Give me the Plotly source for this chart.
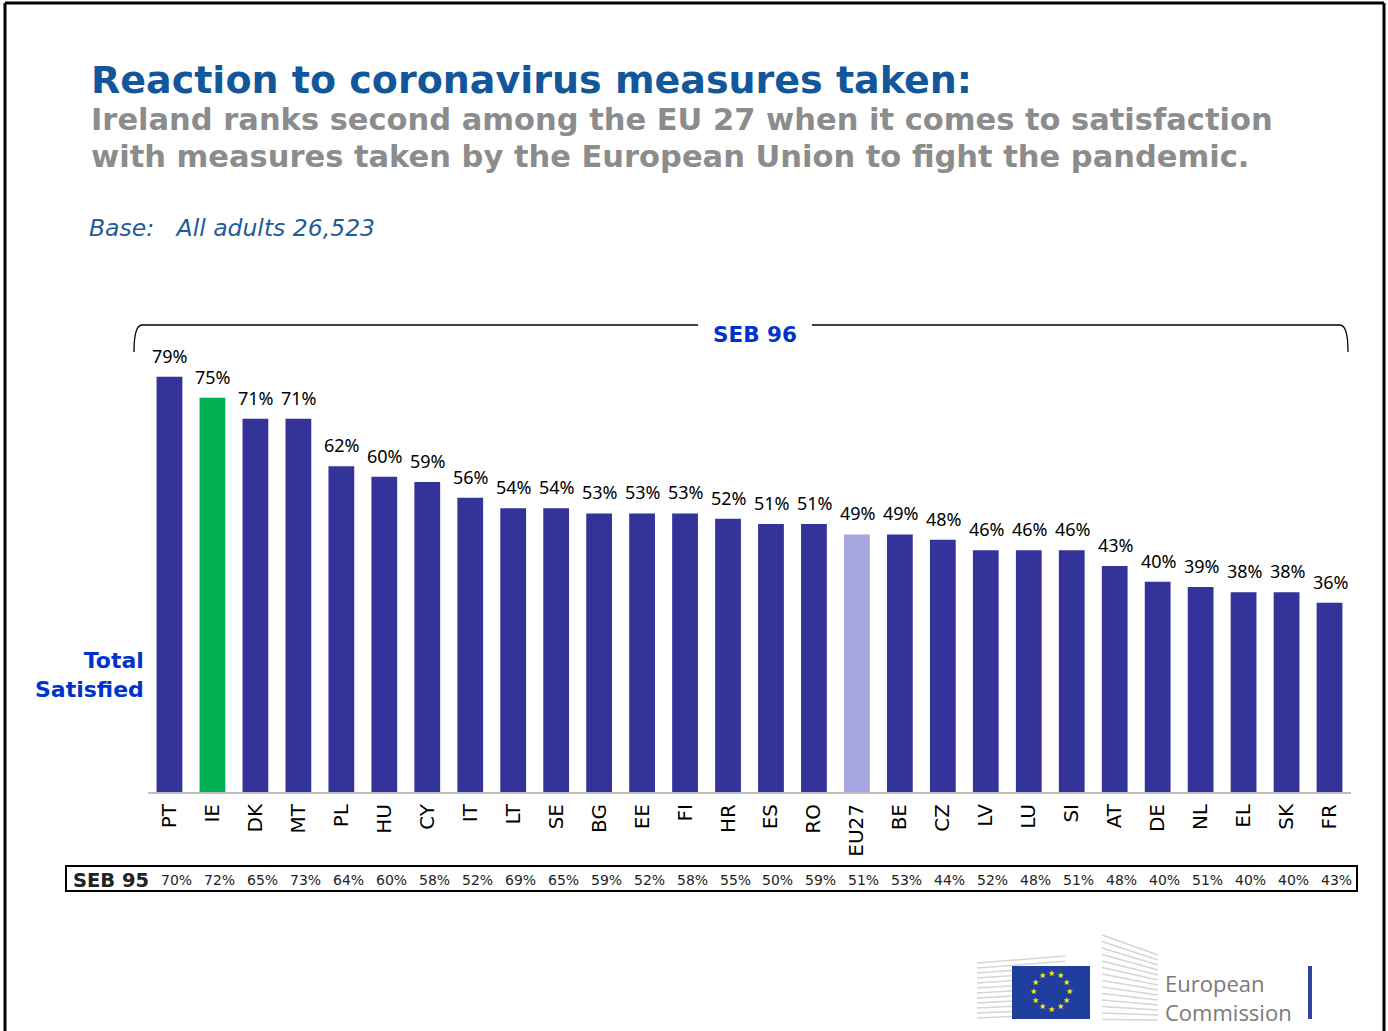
import plotly.graph_objects as go
import math

countries = ["PT","IE","DK","MT","PL","HU","CY","IT","LT","SE","BG","EE","FI","HR","ES","RO",
             "EU27","BE","CZ","LV","LU","SI","AT","DE","NL","EL","SK","FR"]
seb96 = [79,75,71,71,62,60,59,56,54,54,53,53,53,52,51,51,49,49,48,46,46,46,43,40,39,38,38,36]
seb95 = [70,72,65,73,64,60,58,52,69,65,59,52,58,55,50,59,51,53,44,52,48,51,48,40,51,40,40,43]

W, H = 1388, 1031
L, R, T, B = 148, 37, 340, 239
PW, PH = W - L - R, H - T - B

def px(x):
    return (x - L) / PW

def py(y):
    return (H - B - y) / PH

BAR = "#333399"
colors = []
for c in countries:
    if c == "IE":
        colors.append("#00B050")
    elif c == "EU27":
        colors.append("#A5A5E0")
    else:
        colors.append(BAR)

fig = go.Figure()
fig.add_trace(go.Bar(x=countries, y=seb96, marker=dict(color=colors, line=dict(width=0)),
                     hoverinfo="skip", showlegend=False))

annotations = []
for c, v in zip(countries, seb96):
    annotations.append(dict(x=c, y=v, xref="x", yref="y", text=f"{v}%", showarrow=False,
                            yanchor="middle", yshift=21, xshift=1,
                            font=dict(family="Noto Sans", size=18, color="#000000")))

# SEB 95 row
for c, v in zip(countries, seb95):
    annotations.append(dict(x=c, y=py(880), xref="x", yref="paper", text=f"{v}%", showarrow=False,
                            yanchor="middle", xanchor="center", xshift=7,
                            font=dict(family="DejaVu Sans", size=14, color="#222222")))
annotations.append(dict(x=px(71), y=py(880), xref="paper", yref="paper", text="<b>SEB 95</b>",
                        showarrow=False, xanchor="left", yanchor="middle",
                        font=dict(family="DejaVu Sans", size=19.5, color="#222222")))

# titles
annotations += [
    dict(x=px(89), y=py(80), xref="paper", yref="paper", xanchor="left", yanchor="middle",
         text="<b>Reaction to coronavirus measures taken:</b>", showarrow=False,
         font=dict(family="DejaVu Sans", size=38, color="#13579B")),
    dict(x=px(89), y=py(120), xref="paper", yref="paper", xanchor="left", yanchor="middle",
         text="<b>Ireland ranks second among the EU 27 when it comes to satisfaction</b>", showarrow=False,
         font=dict(family="DejaVu Sans", size=30.5, color="#8C8C8C")),
    dict(x=px(89), y=py(156), xref="paper", yref="paper", xanchor="left", yanchor="middle",
         text="<b>with measures taken by the European Union to fight the pandemic.</b>", showarrow=False,
         font=dict(family="DejaVu Sans", size=30.5, color="#8C8C8C")),
    dict(x=px(87), y=py(228), xref="paper", yref="paper", xanchor="left", yanchor="middle",
         text="<i>Base:\u00a0\u00a0\u00a0All adults 26,523</i>", showarrow=False,
         font=dict(family="DejaVu Sans", size=23.5, color="#1F5C99")),
    dict(x=px(755), y=py(334), xref="paper", yref="paper", xanchor="center", yanchor="middle",
         text="<b>SEB 96</b>", showarrow=False,
         font=dict(family="DejaVu Sans", size=21.5, color="#0033CC")),
    dict(x=px(146), y=py(675), xref="paper", yref="paper", xanchor="right", yanchor="middle",
         text="<b>Total<br>Satisfied</b>", showarrow=False, align="right",
         font=dict(family="DejaVu Sans", size=22, color="#0033CC")),
    dict(x=px(1163), y=py(997), xref="paper", yref="paper", xanchor="left", yanchor="middle",
         text="European<br>Commission", showarrow=False, align="left",
         font=dict(family="Open Sans", size=22, color="#7a7a7a")),
]

# EU stars
cx, cy, rr = 1051, 991, 18
for k in range(12):
    a = 2 * math.pi * k / 12
    annotations.append(dict(x=px(cx + rr * math.sin(a)), y=py(cy - rr * math.cos(a)),
                            xref="paper", yref="paper", text="★", showarrow=False,
                            xanchor="center", yanchor="middle",
                            font=dict(family="DejaVu Sans", size=8, color="#FFED00")))

shapes = []
# outer border
for (x0, y0, x1, y1) in [(5, 3, 1384, 3), (5, 3, 5, 1031), (1384, 3, 1384, 1031)]:
    shapes.append(dict(type="line", xref="paper", yref="paper", x0=px(x0), y0=py(y0), x1=px(x1), y1=py(y1),
                       line=dict(color="#000000", width=3)))
# SEB 96 bracket
path_left = (f"M {px(134)} {py(352)} Q {px(134)} {py(325)} {px(142)} {py(325)} L {px(698)} {py(325)}")
path_right = (f"M {px(812)} {py(325)} L {px(1340)} {py(325)} Q {px(1348)} {py(325)} {px(1348)} {py(352)}")
for p in (path_left, path_right):
    shapes.append(dict(type="path", xref="paper", yref="paper", path=p,
                       line=dict(color="#000000", width=1.3)))
# SEB 95 box
shapes.append(dict(type="rect", xref="paper", yref="paper", x0=px(66), y0=py(866), x1=px(1357), y1=py(891),
                   line=dict(color="#000000", width=2)))
# logo: grey building lines
for i in range(12):
    y = 960 + i * 5
    shapes.append(dict(type="line", xref="paper", yref="paper", x0=px(977), y0=py(y + 3), x1=px(1065), y1=py(y - 4 + i * 0.3),
                       line=dict(color="#d5d5d5", width=1.5)))
for i in range(14):
    y = 955 + i * 5
    shapes.append(dict(type="line", xref="paper", yref="paper", x0=px(1102), y0=py(y - 20 + i * 1.5), x1=px(1158), y1=py(y),
                       line=dict(color="#d5d5d5", width=1.5)))
shapes.append(dict(type="rect", xref="paper", yref="paper", x0=px(1012), y0=py(966), x1=px(1090), y1=py(1019),
                   line=dict(width=0), fillcolor="#1F3E9E"))
shapes.append(dict(type="rect", xref="paper", yref="paper", x0=px(1308), y0=py(966), x1=px(1312), y1=py(1019),
                   line=dict(width=0), fillcolor="#3343A0"))

fig.update_layout(
    width=W, height=H,
    margin=dict(l=L, r=R, t=T, b=B),
    paper_bgcolor="white", plot_bgcolor="white",
    bargap=0.4,
    xaxis=dict(type="category", range=[-0.5, len(countries) - 0.5], showline=True, linecolor="#BFBFBF",
               linewidth=2, ticks="", tickangle=-90, showgrid=False, ticklabelstandoff=2,
               tickfont=dict(family="DejaVu Sans", size=20, color="#000000")),
    yaxis=dict(range=[0, 86], visible=False, showgrid=False, zeroline=False),
    annotations=annotations,
    shapes=shapes,
)

fig.write_html("out.html", config={"displayModeBar": False},
               post_script="document.body.style.margin='0';document.body.style.overflow='hidden';")
